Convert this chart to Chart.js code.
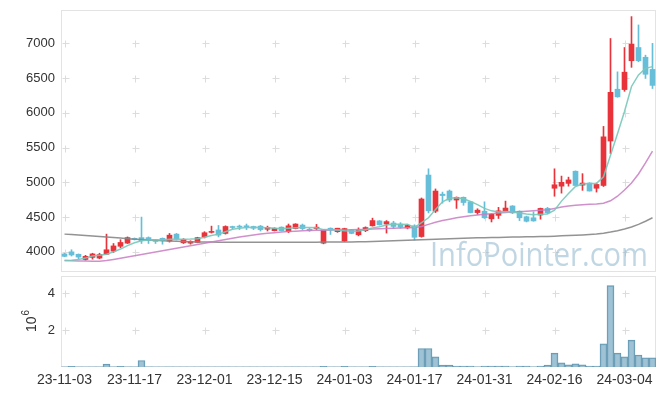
<!DOCTYPE html>
<html>
<head>
<meta charset="utf-8">
<script src="https://cdn.jsdelivr.net/npm/chart.js@4.4.1/dist/chart.umd.min.js"></script>
<style>
  html, body { margin: 0; padding: 0; background: #fff; }
  #wrap { position: relative; width: 665px; height: 396px; overflow: hidden; }
  canvas { position: absolute; left: 0; }
</style>
</head>
<body>
<div id="wrap">
  <canvas id="price" width="665" height="274" style="top:0"></canvas>
  <canvas id="vol" width="665" height="122" style="top:274px"></canvas>
</div>
<script>
// trading days (YY-MM-DD)
const dates = [
  '23-11-03','23-11-06','23-11-07','23-11-08','23-11-09','23-11-10','23-11-13','23-11-14','23-11-15','23-11-16',
  '23-11-17','23-11-20','23-11-21','23-11-22','23-11-23','23-11-24','23-11-27','23-11-28','23-11-29','23-11-30',
  '23-12-01','23-12-04','23-12-05','23-12-06','23-12-07','23-12-08','23-12-11','23-12-12','23-12-13','23-12-14',
  '23-12-15','23-12-18','23-12-19','23-12-20','23-12-21','23-12-22','23-12-26','23-12-27','23-12-28','24-01-02',
  '24-01-03','24-01-04','24-01-05','24-01-08','24-01-09','24-01-10','24-01-11','24-01-12','24-01-15','24-01-16',
  '24-01-17','24-01-18','24-01-19','24-01-22','24-01-23','24-01-24','24-01-25','24-01-26','24-01-29','24-01-30',
  '24-01-31','24-02-01','24-02-02','24-02-05','24-02-06','24-02-07','24-02-08','24-02-13','24-02-14','24-02-15',
  '24-02-16','24-02-19','24-02-20','24-02-21','24-02-22','24-02-23','24-02-26','24-02-27','24-02-28','24-02-29',
  '24-03-04','24-03-05','24-03-06','24-03-07','24-03-08'
];

const openP = [
  3970,4000,3965,3890,3920,3910,3965,4010,4080,4125,
  4190,4205,4205,4175,4195,4155,4255,4130,4125,4135,
  4215,4280,4315,4265,4360,4370,4375,4365,4370,4325,
  4305,4355,4290,4335,4385,4325,4335,4125,4340,4290,
  4155,4315,4245,4305,4375,4445,4400,4415,4400,4345,
  4375,4220,5105,4585,4830,4875,4745,4785,4720,4565,
  4585,4475,4525,4585,4660,4585,4505,4490,4530,4625,
  4915,4945,4985,5160,4960,4990,4915,4955,5595,6340,
  6335,6750,6940,6800,6625
];
const highP = [
  3980,4030,3970,3950,3980,3980,4255,4120,4175,4215,
  4200,4500,4215,4180,4200,4265,4265,4190,4160,4210,
  4290,4370,4380,4375,4370,4385,4400,4370,4380,4370,
  4345,4360,4400,4405,4400,4340,4395,4320,4345,4340,
  4340,4320,4345,4360,4485,4450,4450,4440,4420,4390,
  4390,4775,5195,4905,4860,4890,4790,4790,4725,4620,
  4720,4550,4640,4730,4665,4590,4515,4575,4630,4640,
  5195,5090,5075,5165,5125,4995,4990,5805,7070,6590,
  6940,7385,7265,6830,7000
];
const lowP = [
  3930,3940,3900,3880,3895,3900,3960,3990,4060,4120,
  4170,4120,4120,4120,4110,4140,4170,4120,4110,4130,
  4200,4270,4215,4255,4330,4320,4320,4320,4300,4300,
  4300,4300,4275,4330,4320,4295,4320,4115,4250,4280,
  4150,4260,4230,4290,4370,4385,4270,4340,4340,4330,
  4170,4210,4560,4565,4700,4720,4625,4670,4560,4540,
  4480,4430,4480,4580,4550,4450,4430,4440,4470,4550,
  4800,4845,4945,4955,4885,4875,4860,4940,5415,6225,
  6310,6655,6735,6495,6350
];
const closeP = [
  3935,3955,3925,3935,3970,3960,4030,4085,4135,4205,
  4180,4160,4165,4150,4160,4240,4190,4180,4150,4205,
  4275,4285,4240,4365,4350,4355,4355,4340,4320,4350,
  4340,4305,4375,4400,4335,4305,4355,4315,4315,4340,
  4335,4265,4315,4350,4450,4390,4435,4365,4355,4380,
  4210,4760,4590,4875,4810,4745,4785,4710,4565,4600,
  4490,4540,4590,4630,4560,4490,4440,4445,4625,4560,
  4965,5000,5035,4955,4990,4875,4970,5655,6295,6230,
  6585,6990,6750,6555,6395
];
const volume = [
  10000,40000,12000,9000,11000,10000,160000,15000,40000,14000,
  12000,350000,15000,9000,8000,12000,10000,8000,7000,9000,
  10000,8000,9000,12000,7000,6000,8000,7000,6000,9000,
  7000,6000,10000,12000,8000,6000,9000,40000,9000,8000,
  40000,10000,8000,9000,40000,12000,10000,8000,7000,9000,
  15000,1000000,1000000,550000,100000,100000,50000,50000,50000,15000,
  50000,50000,50000,50000,15000,50000,50000,15000,50000,100000,
  750000,220000,120000,170000,120000,50000,50000,1250000,4400000,750000,
  550000,1450000,650000,500000,500000
];
// moving averages as drawn in the picture
const ma5 = [
  3875,3880,3890,3910,3940,3950,3965,4000,4040,4090,
  4130,4160,4170,4175,4172,4180,4180,4183,4185,4190,
  4210,4235,4255,4290,4325,4340,4350,4352,4350,4345,
  4340,4333,4338,4345,4352,4350,4345,4320,4318,4315,
  4305,4298,4300,4318,4345,4360,4385,4400,4395,4398,
  4350,4420,4490,4610,4720,4770,4780,4765,4725,4680,
  4625,4590,4575,4580,4575,4560,4545,4535,4540,4545,
  4600,4730,4840,4940,4975,4985,4985,5080,5390,5700,
  6020,6380,6545,6640,6665
];
const ma20 = [
  3875,3873,3870,3867,3865,3865,3875,3890,3907,3925,
  3943,3961,3979,3997,4015,4033,4051,4069,4087,4105,
  4123,4141,4159,4177,4195,4212,4228,4243,4256,4267,
  4276,4284,4291,4297,4302,4306,4309,4311,4313,4315,
  4316,4318,4320,4323,4327,4331,4335,4339,4343,4347,
  4352,4365,4395,4425,4450,4470,4490,4505,4518,4530,
  4540,4550,4558,4566,4572,4578,4584,4590,4597,4605,
  4625,4645,4660,4670,4678,4684,4690,4700,4735,4800,
  4890,4990,5120,5280,5450
];
const ma60 = [
  4255,4250,4243,4236,4228,4220,4212,4205,4198,4190,
  4183,4177,4171,4166,4160,4155,4151,4148,4145,4143,
  4141,4140,4139,4138,4138,4137,4137,4137,4137,4137,
  4137,4137,4138,4138,4138,4139,4139,4140,4140,4141,
  4142,4143,4145,4147,4150,4153,4156,4159,4162,4166,
  4170,4174,4178,4182,4186,4190,4193,4196,4199,4202,
  4204,4206,4208,4210,4212,4214,4216,4218,4220,4222,
  4226,4230,4234,4239,4244,4250,4257,4268,4284,4304,
  4328,4358,4395,4440,4490
];
const priceTicks = [4000, 4500, 5000, 5500, 6000, 6500, 7000];
const volTicks = [2000000, 4000000];
const dateStep = 10;

const UP = '#e8333b', DOWN = '#66bed8';
const candleColor = openP.map((o, i) => closeP[i] >= o ? UP : DOWN);
const axisFont = { family: '"Liberation Sans", Arial, sans-serif', size: 13 };
const dateFont = { family: '"Liberation Sans", Arial, sans-serif', size: 14 };

// keep the plot area where the picture has it
function fixY(s) {
  s.width = 61;
  s.paddingTop = 0;
  s.paddingBottom = 0;
}

function marks(yTicks) {
  return {
    id: 'marks',
    beforeDatasetsDraw(chart) {
      const { ctx, chartArea: a, scales: { x, y } } = chart;
      ctx.save();
      ctx.strokeStyle = '#e3e3e3';
      ctx.lineWidth = 1;
      ctx.strokeRect(a.left + 0.5, a.top + 0.5, a.right - a.left - 1, a.bottom - a.top - 1);
      ctx.strokeStyle = '#dcdcdc';
      ctx.beginPath();
      for (let i = 0; i < dates.length; i += dateStep) {
        const px = Math.round(x.getPixelForValue(i)) + 0.5;
        yTicks.forEach(v => {
          const py = Math.round(y.getPixelForValue(v)) + 0.5;
          ctx.moveTo(px - 3, py); ctx.lineTo(px + 4, py);
          ctx.moveTo(px, py - 3); ctx.lineTo(px, py + 4);
        });
      }
      ctx.stroke();
      ctx.restore();
    }
  };
}

const watermark = {
  id: 'watermark',
  beforeDatasetsDraw(chart) {
    const ctx = chart.ctx;
    const text = 'InfoPointer.com';
    ctx.save();
    ctx.font = '33px "Open Sans", sans-serif';
    const w = ctx.measureText(text).width;
    ctx.translate(430, 266);
    ctx.scale(218 / w, 1);
    ctx.fillStyle = 'rgba(140,180,203,0.55)';
    ctx.textBaseline = 'alphabetic';
    ctx.fillText(text, 0, 0);
    ctx.restore();
  }
};

const volTitle = {
  id: 'volTitle',
  afterDraw(chart) {
    const ctx = chart.ctx;
    ctx.save();
    ctx.translate(36, 48);
    ctx.rotate(-Math.PI / 2);
    ctx.fillStyle = '#333';
    ctx.textBaseline = 'alphabetic';
    ctx.font = '14px "Liberation Sans", Arial, sans-serif';
    const w = ctx.measureText('10').width;
    ctx.fillText('10', -10, 0);
    ctx.font = '10px "Liberation Sans", Arial, sans-serif';
    ctx.fillText('6', -10 + w + 1, -7);
    ctx.restore();
  }
};

new Chart(document.getElementById('price'), {
  type: 'bar',
  data: {
    labels: dates,
    datasets: [
      { type: 'line', data: ma5, borderColor: 'rgba(120,200,185,0.9)', borderWidth: 1.5, pointRadius: 0, order: 0 },
      { type: 'line', data: ma20, borderColor: 'rgba(200,125,195,0.85)', borderWidth: 1.5, pointRadius: 0, order: 0 },
      { type: 'line', data: ma60, borderColor: 'rgba(135,135,135,0.9)', borderWidth: 1.5, pointRadius: 0, order: 0 },
      { data: openP.map((o, i) => [o, closeP[i]]), backgroundColor: candleColor, barThickness: 5, minBarLength: 1, grouped: false, order: 1 },
      { data: lowP.map((l, i) => [l, highP[i]]), backgroundColor: candleColor, barThickness: 1, grouped: false, order: 2 }
    ]
  },
  options: {
    responsive: false,
    animation: false,
    layout: { padding: { top: 10, right: 9, bottom: 2, left: 0 } },
    plugins: { legend: { display: false }, tooltip: { enabled: false } },
    scales: {
      x: { display: false, offset: true },
      y: {
        min: 3710, max: 7480,
        afterBuildTicks: s => { s.ticks = priceTicks.map(v => ({ value: v })); },
        afterFit: fixY,
        grid: { display: false, drawTicks: false },
        border: { display: false },
        ticks: { font: axisFont, color: '#333', padding: 6, callback: v => String(v) }
      }
    }
  },
  plugins: [marks(priceTicks), watermark]
});

new Chart(document.getElementById('vol'), {
  type: 'bar',
  data: {
    labels: dates,
    datasets: [{
      data: volume,
      backgroundColor: 'rgba(135,180,202,0.8)',
      borderColor: '#6598b2',
      borderWidth: ctx => volume[ctx.dataIndex] > 30000 ? 1 : 0,
      barPercentage: 1,
      categoryPercentage: 1
    }]
  },
  options: {
    responsive: false,
    animation: false,
    layout: { padding: { top: 2, right: 9, bottom: 0, left: 0 } },
    plugins: { legend: { display: false }, tooltip: { enabled: false } },
    scales: {
      x: {
        offset: true,
        grid: { display: false, drawTicks: false },
        border: { display: false },
        afterBuildTicks: s => { s.ticks = s.ticks.filter(t => t.value % dateStep === 0); },
        afterFit: s => { s.height = 29; s.paddingLeft = 0; s.paddingRight = 0; },
        ticks: { autoSkip: false, maxRotation: 0, font: dateFont, color: '#333', padding: 5 }
      },
      y: {
        min: 0, max: 4920000,
        afterBuildTicks: s => { s.ticks = volTicks.map(v => ({ value: v })); },
        afterFit: fixY,
        grid: { display: false, drawTicks: false },
        border: { display: false },
        ticks: { font: axisFont, color: '#333', padding: 6, callback: v => String(v / 1000000) }
      }
    }
  },
  plugins: [marks(volTicks), volTitle]
});
</script>
</body>
</html>
